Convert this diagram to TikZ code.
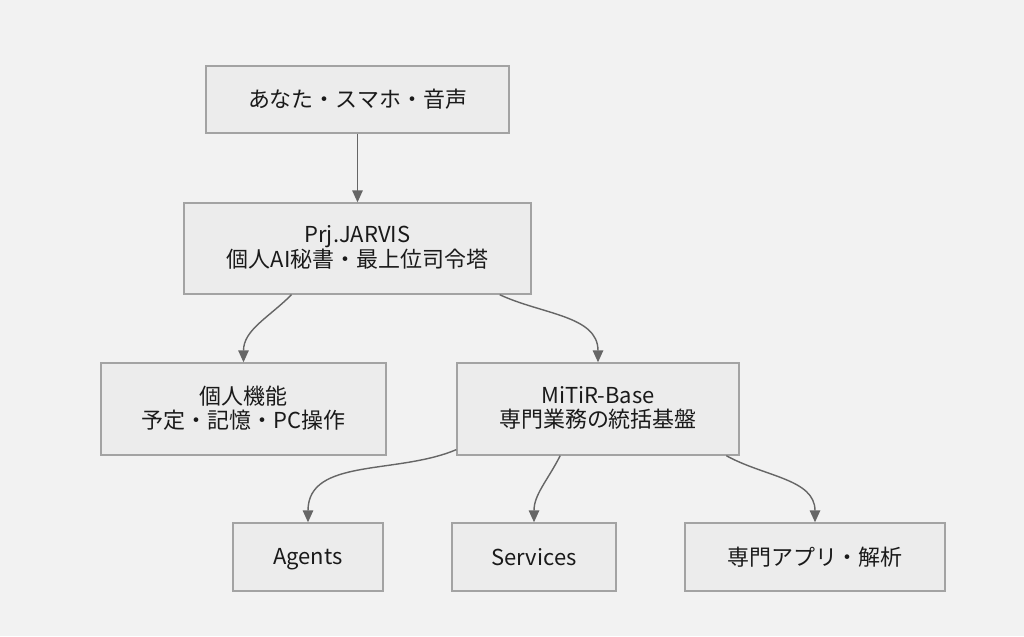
\documentclass[tikz,border=0pt]{standalone}
\usepackage{fontspec}
\setmainfont{Noto Sans CJK JP}
\usetikzlibrary{arrows.meta}
\definecolor{bgcol}{HTML}{F2F2F2}
\definecolor{boxfill}{HTML}{ECECEC}
\definecolor{boxline}{HTML}{A3A3A3}
\definecolor{linkcol}{HTML}{666666}
\definecolor{txtcol}{HTML}{1A1A1A}
\newcommand\boxstrut{\rule[-2.2pt]{0pt}{13.8pt}}
\tikzset{
  box/.style={draw=boxline, fill=boxfill, line width=0.8pt, align=center, text=txtcol,
    font=\fontsize{12.5}{13.8}\selectfont, inner sep=0pt,
    execute at begin node=\boxstrut, execute at end node=\boxstrut},
  link/.style={draw=linkcol, line width=0.8pt, -{Triangle[length=2.4mm,width=2.1mm]}}
}
\begin{document}
\begin{tikzpicture}[x=0.02cm,y=-0.02cm]
\fill[bgcol] (0,0) rectangle (1024,636); \useasboundingbox (0,0) rectangle (1024,636);
% boxes
\node[box, minimum width=6.06cm, minimum height=1.34cm] (you) at (357.5,99.5) {あなた・スマホ・音声};
\node[box, minimum width=6.94cm, minimum height=1.82cm] (jarvis) at (357.5,248.5) {Prj.JARVIS\\個人AI秘書・最上位司令塔};
\node[box, minimum width=5.70cm, minimum height=1.84cm] (kojin) at (243.5,409) {個人機能\\予定・記憶・PC操作};
\node[box, minimum width=5.64cm, minimum height=1.84cm] (mitir) at (598,409) {MiTiR-Base\\専門業務の統括基盤};
\node[box, minimum width=3.00cm, minimum height=1.36cm] (agents) at (308,557) {Agents};
\node[box, minimum width=3.28cm, minimum height=1.36cm] (services) at (534,557) {Services};
\node[box, minimum width=5.20cm, minimum height=1.36cm] (apps) at (815,557) {専門アプリ・解析};
% links
\draw[link] (you) -- (jarvis);
\draw[link] (jarvis.215) to[out=-135,in=90] (kojin);
\draw[link] (jarvis.-18) to[out=-25,in=90] (mitir);
\draw[link] (mitir.196) to[out=-157,in=90] (agents);
\draw[link] (mitir.231) to[out=-117,in=90] (services);
\draw[link] (mitir.-20) to[out=-29,in=90] (apps);
\end{tikzpicture}
\end{document}
